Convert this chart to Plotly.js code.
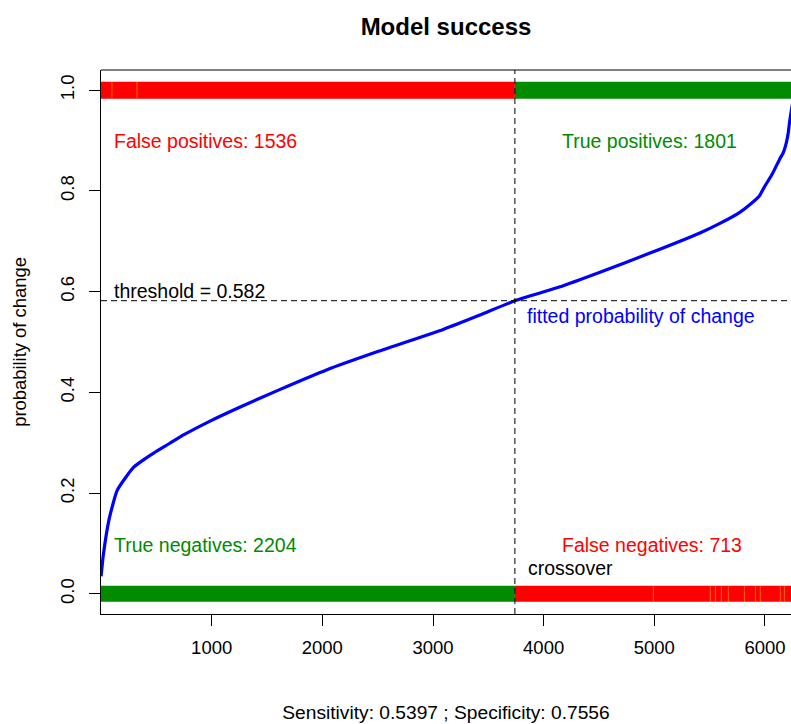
<!DOCTYPE html>
<html>
<head>
<meta charset="utf-8">
<script src="https://cdn.plot.ly/plotly-3.0.1.min.js"></script>
<style>html,body{margin:0;padding:0;background:#fff;}#chart{width:791px;height:724px;}</style>
</head>
<body>
<div id="chart"></div>
<script>
// ---- data ----
const total = 6254;                 // number of observations
const crossover = 3740;             // index where fitted prob passes threshold
const threshold = 0.582;
const counts = {FP: 1536, TP: 1801, TN: 2204, FN: 713};
// sorted fitted probability curve (observation rank, probability)
const curveX = [1, 21, 72, 145, 226, 298, 390, 479, 615, 750, 995, 1248, 1609, 2043, 2514, 3092, 3418, 3740, 4141, 4503, 4955, 5407, 5588, 5769, 5859, 5949, 5995, 6067, 6130, 6165, 6193, 6210, 6221, 6235, 6254];
const curveY = [0.035, 0.077, 0.147, 0.205, 0.232, 0.252, 0.267, 0.28, 0.298, 0.316, 0.344, 0.37, 0.405, 0.445, 0.482, 0.525, 0.553, 0.582, 0.609, 0.638, 0.676, 0.716, 0.735, 0.757, 0.772, 0.79, 0.808, 0.834, 0.862, 0.876, 0.896, 0.915, 0.935, 0.955, 0.98];
// observed-class bands: segment bounds and colours
const bandStart = [0, crossover];
const bandEnd = [crossover, total];
const topColors = ['#FF0000', '#008B00'];
const bottomColors = ['#008B00', '#FF0000'];
// faint streaks visible inside the bands
const topStreaks = [99, 325];
const bottomStreaks = [4991, 5506, 5552, 5606, 5669, 5814, 5913, 5958, 6139, 6175];
const xTicks = [1000, 2000, 3000, 4000, 5000, 6000];
const yTicks = [0, 0.2, 0.4, 0.6, 0.8, 1.0];

const FONT = 'Liberation Sans, Arial, sans-serif';
const GREEN = '#008B00';
const traces = [];

for (let i = 0; i < bandStart.length; i++) {
  traces.push({x: [bandStart[i], bandEnd[i]], y: [1, 1], mode: 'lines',
    line: {color: topColors[i], width: 17}, hoverinfo: 'skip', showlegend: false});
  traces.push({x: [bandStart[i], bandEnd[i]], y: [0, 0], mode: 'lines',
    line: {color: bottomColors[i], width: 16}, hoverinfo: 'skip', showlegend: false});
}
function streakTrace(xs, yc, h) {
  const x = [], y = [];
  xs.forEach(v => { x.push(v, v, null); y.push(yc - h, yc + h, null); });
  return {x, y, mode: 'lines', line: {color: 'rgba(255,190,0,0.55)', width: 1}, hoverinfo: 'skip', showlegend: false};
}
traces.push(streakTrace(topStreaks, 1, 0.016));
traces.push(streakTrace(bottomStreaks, 0, 0.015));

traces.push({x: curveX, y: curveY, mode: 'lines', line: {color: '#0000FF', width: 3.2, shape: 'spline', smoothing: 0.5},
  hoverinfo: 'skip', showlegend: false});

const ann = (text, x, y, color, xanchor) => ({text, x, y, xref: 'x', yref: 'y', showarrow: false,
  xanchor, yanchor: 'middle', font: {family: FONT, size: 19.5, color}});

const DASH = '6px,4px';
const layout = {
  width: 791, height: 724,
  margin: {l: 101, r: 0, t: 70, b: 110},
  paper_bgcolor: '#fff', plot_bgcolor: '#fff',
  font: {family: FONT, color: '#000'},
  title: {text: '<b>Model success</b>', x: 0.5, xref: 'paper', y: 1 - 27 / 724, yref: 'container',
    yanchor: 'middle', font: {family: FONT, size: 24, color: '#000'}},
  xaxis: {range: [0, 6235], tickvals: xTicks, ticktext: xTicks.map(String), ticks: 'outside', ticklen: 11,
    tickcolor: '#000', tickwidth: 1, showline: true, linecolor: '#000', linewidth: 1, zeroline: false,
    showgrid: false, tickfont: {family: FONT, size: 18.5, color: '#000'}, ticklabelstandoff: 6,
    title: {text: 'Sensitivity: 0.5397 ; Specificity: 0.7556', standoff: 48,
      font: {family: FONT, size: 19.2, color: '#000'}}, automargin: false, fixedrange: true},
  yaxis: {range: [-0.04, 1.04], tickvals: yTicks, ticktext: yTicks.map(v => v.toFixed(1)), ticks: 'outside',
    ticklen: 11, tickcolor: '#000', tickwidth: 1, showline: true, linecolor: '#000', linewidth: 1,
    zeroline: false, showgrid: false, tickangle: -90, ticklabelstandoff: 8,
    tickfont: {family: FONT, size: 18.5, color: '#000'},
    title: {text: 'probability of change', standoff: 25, font: {family: FONT, size: 18.4, color: '#000'}},
    automargin: false, fixedrange: true},
  shapes: [
    {type: 'line', xref: 'paper', yref: 'paper', x0: 0, x1: 1, y0: 1, y1: 1, line: {color: '#000', width: 1}},
    {type: 'line', xref: 'x', yref: 'paper', x0: crossover, x1: crossover, y0: 0, y1: 1,
      line: {color: '#000', width: 1, dash: DASH}},
    {type: 'line', xref: 'paper', yref: 'y', x0: 0, x1: 1, y0: threshold, y1: threshold,
      line: {color: '#000', width: 1, dash: DASH}}
  ],
  annotations: [
    ann('False positives: ' + counts.FP, 100, 0.9, '#FF0000', 'left'),
    ann('True positives: ' + counts.TP, 4960, 0.9, GREEN, 'center'),
    ann('threshold = ' + threshold, 100, 0.602, '#000', 'left'),
    ann('fitted probability of change', 3830, 0.552, '#0000FF', 'left'),
    ann('True negatives: ' + counts.TN, 100, 0.097, GREEN, 'left'),
    ann('False negatives: ' + counts.FN, 4975, 0.097, '#FF0000', 'center'),
    ann('crossover', 3840, 0.051, '#000', 'left')
  ]
};

Plotly.newPlot('chart', traces, layout, {displayModeBar: false, staticPlot: true});
</script>
</body>
</html>
